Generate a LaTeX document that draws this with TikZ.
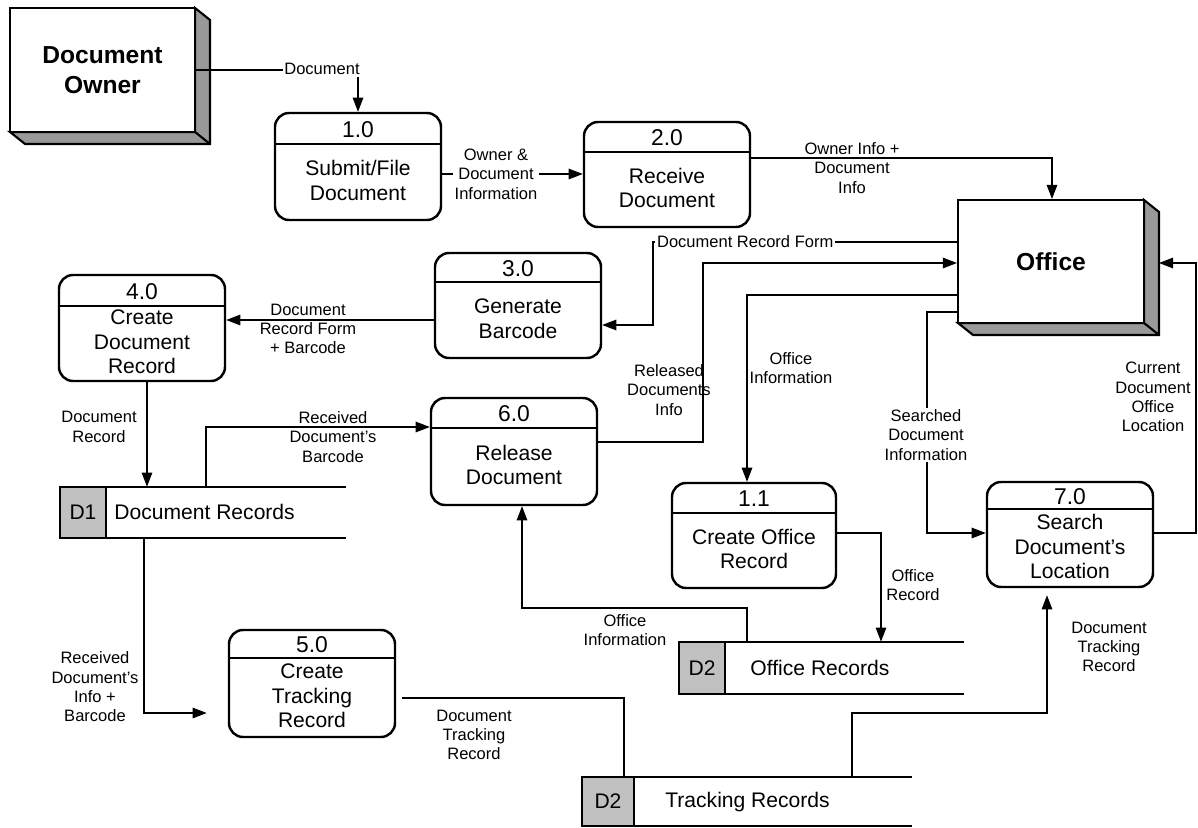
\documentclass[tikz,border=0pt]{standalone}
\usepackage{fontspec}
\setmainfont{Liberation Sans}
\usetikzlibrary{arrows.meta,fit}
\definecolor{shadegray}{HTML}{999999}
\definecolor{storegray}{HTML}{C0C0C0}
\tikzset{
 procbox/.style={draw, line width=1.4pt, rounded corners=8pt, inner sep=0pt},
 divline/.style={line width=1.2pt},
 numtext/.style={font=\fontsize{13}{15}\selectfont, inner sep=0pt},
 proctext/.style={font=\fontsize{12}{14}\selectfont, align=center, inner sep=0pt},
 flow/.style={line width=0.6pt, draw=black},
 arr/.style={flow, -{Triangle[length=8pt,width=6pt]}},
 flowlabel/.style={font=\fontsize{9.4}{11}\selectfont, align=center, inner sep=1pt},
 whitelabel/.style={flowlabel, fill=white},
 extface/.style={draw, line width=1.2pt, fill=white, inner sep=0pt},
 exttext/.style={font=\fontsize{14}{17}\selectfont\bfseries, align=center},
 extshade/.style={draw, line width=1.2pt, fill=shadegray, line join=miter},
 storecell/.style={draw, line width=1pt, fill=storegray},
 storeline/.style={line width=1.1pt},
 storetext/.style={font=\fontsize{12}{14}\selectfont, inner sep=0pt},
 storearea/.style={inner sep=0pt},
}
\newcommand{\extbox}[6]{%
 \draw[extshade] (#4,#3) -- ++(15,12) |- ({#2+15},{#5+12}) -- (#2,#5) -- (#4,#5) -- cycle;
 \draw[extshade] (#4,#5) -- ++(15,12);
 \node[extface, fit={(#2,#3) (#4,#5)}] (#1) {};
 \node[exttext] at (#1.center) {#6};
}
\newcommand{\procnode}[8]{%
 \node[procbox, fit={(#2,#3) (#4,#5)}] (#1) {};
 \draw[divline] (#2,#6) -- (#4,#6);
 \node[numtext] at ({(#2+#4)/2},{(#3+#6)/2+1}) {#7};
 \node[proctext] at ({(#2+#4)/2},{(#6+#5)/2-1.5}) {#8};
}
\newcommand{\storenode}[7]{%
 \node[storearea, fit={(#2,#3) (#5,#6)}] (#1) {};
 \draw[storecell] (#2,#3) rectangle (#4,#6);
 \draw[storeline] (#2,#3) -- (#5,#3) (#2,#6) -- (#5,#6);
 \node[storetext] at ({(#2+#4)/2},{(#3+#6)/2}) {#7};
}
\begin{document}
\begin{tikzpicture}[x=0.02cm,y=-0.02cm]
\useasboundingbox (0,0) rectangle (1198,828);

% external entities
\extbox{owner}{10}{8}{195}{132}{Document\\Owner}
\extbox{office}{958}{200}{1144}{323}{Office}
\coordinate (officeside) at (1159,263);

% processes
\procnode{p1}{275}{113}{441}{220}{144}{1.0}{Submit/File\\Document}
\procnode{p2}{584}{122}{750}{227}{152}{2.0}{Receive\\Document}
\procnode{p3}{435}{253}{601}{358}{282}{3.0}{Generate\\Barcode}
\procnode{p4}{59}{275}{225}{381}{306}{4.0}{Create\\Document\\Record}
\procnode{p6}{431}{398}{597}{505}{428}{6.0}{Release\\Document}
\procnode{p11}{672}{483}{836}{588}{513}{1.1}{Create Office\\Record}
\procnode{p7}{987}{482}{1153}{587}{509}{7.0}{Search\\Document's\\Location}
\procnode{p5}{229}{630}{395}{737}{658}{5.0}{Create\\Tracking\\Record}

% data stores
\storenode{d1}{60}{487}{106}{346}{538}{D1}
\node[storetext, anchor=west] at (114,512) {Document Records};
\storenode{d2o}{679}{642}{725}{964}{694}{D2}
\node[storetext] at (820,668) {Office Records};
\storenode{d2t}{582}{777}{634}{912}{826}{D2}
\node[storetext, anchor=west] at (665,802) {Tracking Records};

% flows
\draw[arr] (owner.east) -- (owner.east -| p1.north) -- (p1.north);
\node[whitelabel] at (322,69) {Document};

\draw[arr] (p1.east |- 0,174) -- (p2.west |- 0,174);
\node[whitelabel] at (496,174) {Owner \&\\Document\\Information};

\draw[arr] (p2.east |- 0,158) -- (1052,158) -- (office.north -| 1052,0);
\node[flowlabel] at (852,168) {Owner Info +\\Document\\Info};

\draw[arr] (office.west |- 0,242) -- (653,242) -- (653,325) -- (p3.east |- 0,325);
\node[whitelabel, anchor=west] at (655,242) {Document Record Form};

\draw[arr] (p6.east |- 0,442) -- (703,442) -- (703,263) -- (office.west |- 0,263);
\node[flowlabel] at (669,390) {Released\\Documents\\Info};

\draw[arr] (office.west |- 0,295) -- (747,295) -- (p11.north -| 747,0);
\node[flowlabel] at (791,368) {Office\\Information};

\draw[arr] (office.west |- 0,312) -- (927,312) -- (927,533) -- (p7.west |- 0,533);
\node[whitelabel] at (926,435) {Searched\\Document\\Information};

\draw[arr] (p7.east |- 0,533) -- (1196,533) -- (1196,263) -- (officeside);
\node[flowlabel] at (1153,397) {Current\\Document\\Office\\Location};

\draw[arr] (p3.west |- 0,320) -- (p4.east |- 0,320);
\node[flowlabel] at (308,329) {Document\\Record Form\\+ Barcode};

\draw[arr] (p4.south -| 147,0) -- (d1.north -| 147,0);
\node[flowlabel] at (99,427) {Document\\Record};

\draw[arr] (d1.north -| 206,0) -- (206,427) -- (p6.west |- 0,427);
\node[flowlabel] at (333,437) {Received\\Document's\\Barcode};

\draw[arr, shorten >=12pt] (d1.south -| 144,0) -- (144,713) -- (p5.west |- 0,713);
\node[flowlabel] at (95,687) {Received\\Document's\\Info +\\Barcode};

\draw[flow, shorten <=3.4pt] (p5.east |- 0,698) -- (624,698) -- (d2t.north -| 624,0);
\node[flowlabel] at (474,735) {Document\\Tracking\\Record};

\draw[arr, shorten >=4pt] (d2t.north -| 852,0) -- (852,713) -- (1047,713) -- (p7.south -| 1047,0);
\node[flowlabel] at (1109,647) {Document\\Tracking\\Record};

\draw[arr] (p11.east |- 0,533) -- (881,533) -- (d2o.north -| 881,0);
\node[flowlabel] at (913,585) {Office\\Record};

\draw[arr] (d2o.north -| 747,0) -- (747,608) -- (522,608) -- (p6.south -| 522,0);
\node[flowlabel] at (625,630) {Office\\Information};

\end{tikzpicture}
\end{document}
